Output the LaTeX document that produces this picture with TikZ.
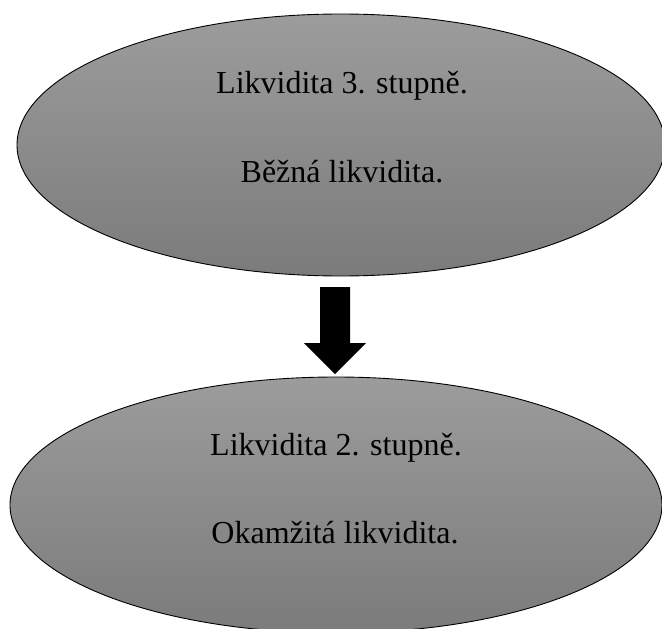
\documentclass[tikz,border=0pt]{standalone}
\usepackage{fontspec}
\setmainfont{Liberation Serif}
\usetikzlibrary{shapes.geometric}
\definecolor{shadetop}{HTML}{9C9C9C}
\definecolor{shadebot}{HTML}{7B7B7B}
\tikzset{
  oval/.style={ellipse, draw=black, line width=0.9pt, top color=shadetop, bottom color=shadebot, inner sep=0pt},
  lbl/.style={anchor=base, inner sep=0pt, font=\fontsize{32}{38}\selectfont, text=black},
  bigarrow/.style={fill=black}
}
\begin{document}
\begin{tikzpicture}[x=1pt,y=-1pt]
\useasboundingbox (0,0) rectangle (662,629);
\node[oval, minimum width=648pt, minimum height=262pt] (top) at (341,145) {};
\node[oval, minimum width=652pt, minimum height=256pt] (bot) at (336,505) {};
\node[lbl] (t1) at (342,93) {Likvidita 3. stupně.};
\node[lbl] (t2) at (342,182) {Běžná likvidita.};
\node[lbl] (b1) at (336,455) {Likvidita 2. stupně.};
\node[lbl] (b2) at (335,543) {Okamžitá likvidita.};
\coordinate (astart) at (335,287);
\coordinate (aend) at (335,374);
\fill[bigarrow] (astart) ++(-15,0) -- ++(30,0) -- ++(0,56) -- ++(16,0) -- (aend) -- ++(-31,-31) -- ++(16,0) -- cycle;
\end{tikzpicture}
\end{document}
